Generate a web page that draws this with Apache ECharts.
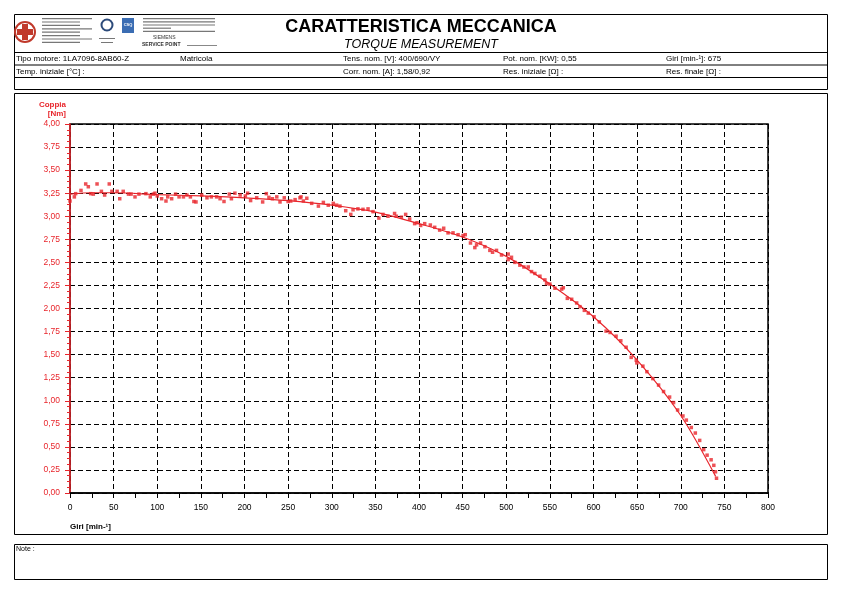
<!DOCTYPE html>
<html><head><meta charset="utf-8">
<script src="https://cdn.jsdelivr.net/npm/echarts@6/dist/echarts.min.js"></script>
<style>html,body{margin:0;padding:0;background:#fff}#c{width:842px;height:595px}</style>
</head><body><div id="c"></div>
<script>
// Measured points: speed [min-1] and torque [Nm]
const speedPts = [0,5,6.5,12.6,18,21,23.7,26.7,31,36,39.7,45,48,54,57,61,67,70,74.5,79,87,92,95.5,97.4,100,105,110,112,116.5,121,125,130,134,138,142,144.4,151,157,162,168,172,176.5,182.6,185,189,195,201,203.6,207,214,220.8,225,228,232,237,240.7,245.6,250,253,258,263.6,264.8,267.5,271.4,277,284.7,290.4,296,301.8,305.6,309.4,316,321.8,324.4,330,335.8,341.6,347.3,354,358.7,364.5,372,374,379.8,384.7,389.3,395,397.7,401.9,406.5,413,418,423.7,428.3,433.3,439,444.8,450.5,453,459,464,466,470.5,475.5,481.2,484.3,488.8,494.6,502.2,502.2,506,509.9,515.6,520.2,525.2,529,532.8,538.6,544.3,546.2,550,555.8,563.5,565.4,570,575,580.7,584.5,589.5,594,600.6,606.7,614.4,619,625.9,631.3,637.4,643.2,649,649.7,656.6,661.2,668,674.6,680.3,687.2,691.8,696.4,702.5,706.4,712.1,716.7,721.7,726.3,730.2,734.8,737.9,739.8,741];
const torquePts = [3.165,3.21,3.245,3.28,3.35,3.32,3.245,3.24,3.35,3.27,3.23,3.35,3.27,3.27,3.19,3.27,3.24,3.24,3.21,3.24,3.245,3.21,3.24,3.25,3.22,3.19,3.165,3.21,3.19,3.24,3.21,3.21,3.23,3.21,3.16,3.155,3.23,3.2,3.21,3.21,3.19,3.16,3.24,3.19,3.25,3.23,3.22,3.25,3.17,3.2,3.155,3.245,3.205,3.19,3.21,3.155,3.2,3.16,3.165,3.18,3.2,3.21,3.165,3.195,3.14,3.11,3.15,3.12,3.14,3.12,3.11,3.06,3.02,3.07,3.08,3.075,3.08,3.05,2.98,3.02,3.0,3.03,3.0,2.99,3.02,2.97,2.92,2.93,2.9,2.92,2.905,2.88,2.85,2.87,2.82,2.82,2.8,2.79,2.8,2.71,2.66,2.69,2.71,2.67,2.63,2.61,2.63,2.58,2.59,2.53,2.555,2.5,2.47,2.45,2.45,2.4,2.38,2.35,2.31,2.27,2.265,2.22,2.21,2.225,2.11,2.1,2.06,2.02,1.98,1.95,1.91,1.855,1.755,1.74,1.7,1.65,1.58,1.47,1.44,1.41,1.375,1.315,1.24,1.17,1.1,1.04,0.98,0.9,0.835,0.79,0.71,0.65,0.57,0.47,0.41,0.36,0.3,0.23,0.16];
// Fitted curve
const fitSpeed = [0,25,50,100,150,200,250,300,350,400,450,500,550,600,650,700,740];
const fitTorque = [3.24,3.255,3.255,3.235,3.22,3.2,3.17,3.12,3.045,2.92,2.775,2.565,2.265,1.91,1.44,0.84,0.18];
// Header texts
const titleText = 'CARATTERISTICA MECCANICA';
const subTitleText = 'TORQUE MEASUREMENT';
const row1 = [['Tipo motore: 1LA7096-8AB60-Z',16],['Matricola',180],['Tens. nom. [V]: 400/690/VY',343],['Pot. nom. [KW]: 0,55',503],['Giri [min-¹]: 675',666]];
const row2 = [['Temp. iniziale [°C] :',16],['Corr. nom. [A]: 1,58/0,92',343],['Res. iniziale [Ω] :',503],['Res. finale [Ω] :',666]];

const RED = '#e8262c';
const FONT = '"Liberation Sans", Arial, sans-serif';
const chart = echarts.init(document.getElementById('c'));

const g = [];
function rect(x,y,w,h,opt){g.push(Object.assign({type:'rect',shape:{x:x,y:y,width:w,height:h},style:{fill:'none',stroke:'#000',lineWidth:1}},opt||{}));}
function line(x1,y1,x2,y2,c,w){g.push({type:'line',shape:{x1:x1,y1:y1,x2:x2,y2:y2},style:{stroke:c||'#000',lineWidth:w||1}});}
function text(t,x,y,o){g.push({type:'text',x:x,y:y,style:Object.assign({text:t,fontFamily:FONT,fontSize:8,fill:'#000',textVerticalAlign:'middle'},o||{})});}

// header box
rect(14.5,14.5,813,75);
line(14.5,52.5,827.5,52.5);
line(14.5,65,827.5,65);
line(14.5,77.5,827.5,77.5);
text(titleText,421,27,{fontSize:18,fontWeight:'bold',textAlign:'center'});
text(subTitleText,421,45,{fontSize:12.5,fontStyle:'italic',textAlign:'center'});
row1.forEach(r=>text(r[0],r[1],59,{}));
row2.forEach(r=>text(r[0],r[1],71.5,{}));
// logos (decorative)
g.push({type:'circle',shape:{cx:25,cy:32,r:10},style:{fill:'#fff',stroke:'#c0392b',lineWidth:2}});
g.push({type:'rect',shape:{x:22,y:24,width:6,height:16},style:{fill:'#c0392b'}});
g.push({type:'rect',shape:{x:17,y:29,width:16,height:6},style:{fill:'#c0392b'}});
for(let i=0;i<8;i++){g.push({type:'rect',shape:{x:42,y:18+i*3.4,width:(i%3===0?50:38),height:1.2},style:{fill:'#777'}});}
g.push({type:'circle',shape:{cx:107,cy:25,r:5.5},style:{fill:'#fff',stroke:'#2c4a7a',lineWidth:2}});
g.push({type:'rect',shape:{x:122,y:18,width:12,height:15},style:{fill:'#3b6db3'}});
text('CSQ',128,25,{fontSize:4,fill:'#fff',textAlign:'center',fontWeight:'bold'});
g.push({type:'rect',shape:{x:99,y:38,width:16,height:1},style:{fill:'#777'}});
g.push({type:'rect',shape:{x:101,y:42,width:12,height:1},style:{fill:'#777'}});
for(let i=0;i<5;i++){g.push({type:'rect',shape:{x:143,y:18+i*3.2,width:(i===3?28:72),height:1.2},style:{fill:'#777'}});}
text('SIEMENS',153,38,{fontSize:5,fill:'#333'});
text('SERVICE POINT',142,45,{fontSize:5,fill:'#333',fontWeight:'bold'});
g.push({type:'rect',shape:{x:187,y:45,width:30,height:1},style:{fill:'#888'}});

// chart box and note box
rect(14.5,93.5,813,441);
rect(14.5,544.5,813,35);
text('Note :',16,549,{fontSize:7});
// axis names
text('Coppia',66,105,{fontSize:8,fontWeight:'bold',fill:RED,textAlign:'right'});
text('[Nm]',66,114,{fontSize:8,fontWeight:'bold',fill:RED,textAlign:'right'});
text('Giri [min-¹]',70,527,{fontSize:8,fontWeight:'bold'});

const pts = speedPts.map((s,i)=>[s,torquePts[i]]);
const fit = fitSpeed.map((s,i)=>[s,fitTorque[i]]);

chart.setOption({
  animation:false,
  textStyle:{fontFamily:FONT},
  grid:{left:70,top:124,width:698,height:369,show:true,borderColor:'#000',borderWidth:1.5,backgroundColor:'transparent'},
  xAxis:{type:'value',min:0,max:800,interval:50,offset:4,
    axisLine:{show:true,lineStyle:{color:'#000',width:1.5}},
    axisTick:{show:true,length:5,lineStyle:{color:'#000'}},
    minorTick:{show:true,splitNumber:2,length:5,lineStyle:{color:'#000'}},
    axisLabel:{color:'#000',fontSize:8.5,margin:6},
    splitLine:{show:true,lineStyle:{color:'#000',type:[5,3],width:1}}},
  yAxis:{type:'value',min:0,max:4,interval:0.25,offset:2,
    axisLine:{show:true,lineStyle:{color:RED,width:1.5}},
    axisTick:{show:true,length:5,lineStyle:{color:RED}},
    minorTick:{show:true,splitNumber:4,length:3,lineStyle:{color:RED}},
    axisLabel:{color:RED,fontSize:8.5,margin:8,formatter:v=>v.toFixed(2).replace('.',',')},
    splitLine:{show:true,lineStyle:{color:'#000',type:[5,3],width:1}}},
  series:[
    {type:'scatter',data:pts,symbol:'rect',symbolSize:3.5,itemStyle:{color:RED},z:3},
    {type:'line',data:fit,smooth:0.3,showSymbol:false,lineStyle:{color:RED,width:1.2},z:4}
  ],
  graphic:g
});
</script></body></html>
